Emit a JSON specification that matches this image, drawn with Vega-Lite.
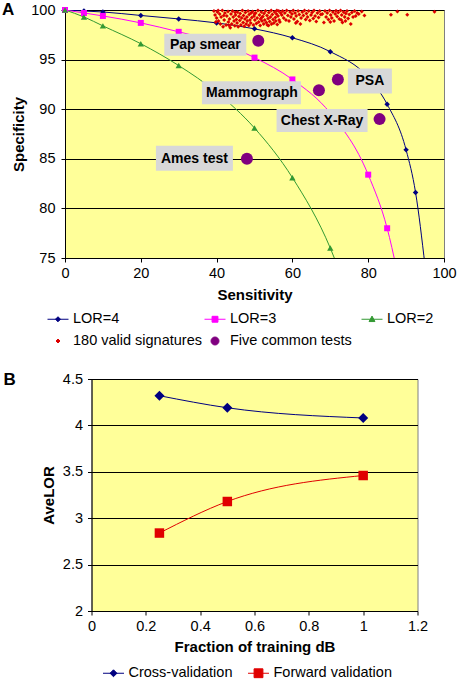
{
  "$schema": "https://vega.github.io/schema/vega-lite/v6.json",
  "padding": {"left": 1, "top": 0, "right": 0, "bottom": 0},
  "background": "white",
  "config": {
    "font": "Liberation Sans",
    "view": {"fill": "#FFFF99", "stroke": "#808080", "strokeWidth": 1},
    "axis": {
      "labelFont": "Liberation Sans", "labelFontSize": 14.5, "labelColor": "black",
      "titleFont": "Liberation Sans", "titleFontSize": 15, "titleFontWeight": "bold", "titleColor": "black",
      "domainColor": "black", "tickColor": "black", "tickSize": 4, "gridColor": "black", "gridOpacity": 1, "gridWidth": 1,
      "labelFlush": false, "labelOverlap": false
    },
    "legend": {
      "labelFont": "Liberation Sans", "labelFontSize": 14.5, "labelColor": "black",
      "symbolSize": 441, "rowPadding": 4, "labelOffset": 4, "symbolStrokeWidth": 1
    },
    "title": {"font": "Liberation Sans", "fontWeight": "bold", "fontSize": 17, "color": "black"}
  },
  "datasets": {
    "curves": [
      {"series": "LOR=4", "sens": 0, "spec": 100},
      {"series": "LOR=4", "sens": 5, "spec": 99.9},
      {"series": "LOR=4", "sens": 10, "spec": 99.8},
      {"series": "LOR=4", "sens": 20, "spec": 99.45},
      {"series": "LOR=4", "sens": 30, "spec": 99.1},
      {"series": "LOR=4", "sens": 40, "spec": 98.7},
      {"series": "LOR=4", "sens": 50, "spec": 98.1},
      {"series": "LOR=4", "sens": 60, "spec": 97.2},
      {"series": "LOR=4", "sens": 70, "spec": 95.8},
      {"series": "LOR=4", "sens": 80, "spec": 93.2},
      {"series": "LOR=4", "sens": 85, "spec": 90.5},
      {"series": "LOR=4", "sens": 90, "spec": 85.9},
      {"series": "LOR=4", "sens": 92.5, "spec": 81.6},
      {"series": "LOR=4", "sens": 95, "spec": 74.2},
      {"series": "LOR=3", "sens": 0, "spec": 100},
      {"series": "LOR=3", "sens": 5, "spec": 99.7},
      {"series": "LOR=3", "sens": 10, "spec": 99.4},
      {"series": "LOR=3", "sens": 20, "spec": 98.7},
      {"series": "LOR=3", "sens": 30, "spec": 97.8},
      {"series": "LOR=3", "sens": 40, "spec": 96.8},
      {"series": "LOR=3", "sens": 50, "spec": 95.2},
      {"series": "LOR=3", "sens": 60, "spec": 93.0},
      {"series": "LOR=3", "sens": 70, "spec": 89.6},
      {"series": "LOR=3", "sens": 80, "spec": 83.4},
      {"series": "LOR=3", "sens": 85, "spec": 78.0},
      {"series": "LOR=3", "sens": 90, "spec": 69.0},
      {"series": "LOR=2", "sens": 0, "spec": 100},
      {"series": "LOR=2", "sens": 5, "spec": 99.3},
      {"series": "LOR=2", "sens": 10, "spec": 98.4},
      {"series": "LOR=2", "sens": 20, "spec": 96.6},
      {"series": "LOR=2", "sens": 30, "spec": 94.4},
      {"series": "LOR=2", "sens": 40, "spec": 91.7},
      {"series": "LOR=2", "sens": 50, "spec": 88.1},
      {"series": "LOR=2", "sens": 60, "spec": 83.1},
      {"series": "LOR=2", "sens": 70, "spec": 76.0},
      {"series": "LOR=2", "sens": 80, "spec": 64.9}
    ],
    "tests": [
      {"test": "Pap smear", "sens": 51, "spec": 96.9},
      {"test": "PSA", "sens": 72, "spec": 93},
      {"test": "Mammograph", "sens": 67, "spec": 91.9},
      {"test": "Chest X-Ray", "sens": 83, "spec": 89},
      {"test": "Ames test", "sens": 48, "spec": 85}
    ],
    "sigs": [
      {"sens": 39.3, "spec": 99.9}, {"sens": 39.6, "spec": 99.5}, {"sens": 40.0, "spec": 99.2}, {"sens": 40.2, "spec": 99.8},
      {"sens": 40.5, "spec": 98.9}, {"sens": 40.8, "spec": 99.6}, {"sens": 41.0, "spec": 98.6}, {"sens": 41.2, "spec": 99.3},
      {"sens": 41.5, "spec": 99.95}, {"sens": 41.7, "spec": 98.3}, {"sens": 42.0, "spec": 99.0}, {"sens": 42.2, "spec": 99.7},
      {"sens": 42.5, "spec": 98.5}, {"sens": 42.7, "spec": 99.4}, {"sens": 43.0, "spec": 99.85}, {"sens": 43.1, "spec": 98.8},
      {"sens": 43.4, "spec": 99.1}, {"sens": 43.6, "spec": 98.2}, {"sens": 43.8, "spec": 99.6}, {"sens": 44.0, "spec": 98.6},
      {"sens": 44.2, "spec": 99.9}, {"sens": 44.4, "spec": 99.3}, {"sens": 44.6, "spec": 98.9}, {"sens": 44.8, "spec": 98.4},
      {"sens": 45.0, "spec": 99.5}, {"sens": 45.2, "spec": 99.05}, {"sens": 45.4, "spec": 98.7}, {"sens": 45.5, "spec": 99.8},
      {"sens": 45.7, "spec": 98.3}, {"sens": 45.9, "spec": 99.35}, {"sens": 46.1, "spec": 98.95}, {"sens": 46.2, "spec": 99.65},
      {"sens": 46.4, "spec": 98.5}, {"sens": 46.6, "spec": 99.2}, {"sens": 46.8, "spec": 99.95}, {"sens": 47.0, "spec": 98.75},
      {"sens": 47.1, "spec": 99.45}, {"sens": 47.3, "spec": 98.35}, {"sens": 47.5, "spec": 99.1}, {"sens": 47.6, "spec": 99.75},
      {"sens": 47.8, "spec": 98.6}, {"sens": 48.0, "spec": 99.3}, {"sens": 48.1, "spec": 98.9}, {"sens": 48.3, "spec": 99.9},
      {"sens": 48.5, "spec": 98.45}, {"sens": 48.6, "spec": 99.55}, {"sens": 48.8, "spec": 99.0}, {"sens": 49.0, "spec": 98.7},
      {"sens": 49.1, "spec": 99.7}, {"sens": 49.3, "spec": 99.25}, {"sens": 39.8, "spec": 98.8}, {"sens": 40.4, "spec": 99.95},
      {"sens": 41.9, "spec": 99.45}, {"sens": 43.3, "spec": 98.45}, {"sens": 44.9, "spec": 99.75},
      {"sens": 49.5, "spec": 99.85}, {"sens": 49.7, "spec": 98.5}, {"sens": 49.9, "spec": 99.4}, {"sens": 50.1, "spec": 99.0},
      {"sens": 50.3, "spec": 99.7}, {"sens": 50.5, "spec": 98.65}, {"sens": 50.7, "spec": 99.2}, {"sens": 50.9, "spec": 99.95},
      {"sens": 51.1, "spec": 98.8}, {"sens": 51.3, "spec": 99.5}, {"sens": 51.5, "spec": 98.45}, {"sens": 51.6, "spec": 99.1},
      {"sens": 51.8, "spec": 99.8}, {"sens": 52.0, "spec": 98.9}, {"sens": 52.2, "spec": 99.35}, {"sens": 52.4, "spec": 98.6},
      {"sens": 52.5, "spec": 99.65}, {"sens": 52.7, "spec": 99.0}, {"sens": 52.9, "spec": 99.9}, {"sens": 53.1, "spec": 98.75},
      {"sens": 53.3, "spec": 99.45}, {"sens": 53.4, "spec": 98.5}, {"sens": 53.6, "spec": 99.15}, {"sens": 53.8, "spec": 99.75},
      {"sens": 54.0, "spec": 98.85}, {"sens": 54.2, "spec": 99.3}, {"sens": 54.4, "spec": 99.95}, {"sens": 54.5, "spec": 98.6},
      {"sens": 54.7, "spec": 99.55}, {"sens": 54.9, "spec": 99.05}, {"sens": 55.1, "spec": 98.7}, {"sens": 55.3, "spec": 99.8},
      {"sens": 55.5, "spec": 99.25}, {"sens": 55.6, "spec": 98.9}, {"sens": 55.8, "spec": 99.6}, {"sens": 56.0, "spec": 98.55},
      {"sens": 56.2, "spec": 99.4}, {"sens": 56.4, "spec": 99.9}, {"sens": 56.5, "spec": 99.0}, {"sens": 56.7, "spec": 98.8},
      {"sens": 56.9, "spec": 99.7}, {"sens": 50.0, "spec": 99.6}, {"sens": 51.9, "spec": 99.25}, {"sens": 53.7, "spec": 98.45},
      {"sens": 55.9, "spec": 99.95},
      {"sens": 57.2, "spec": 99.5}, {"sens": 57.4, "spec": 99.9}, {"sens": 57.7, "spec": 99.2}, {"sens": 58.0, "spec": 99.7},
      {"sens": 58.3, "spec": 99.0}, {"sens": 58.5, "spec": 99.95}, {"sens": 58.8, "spec": 99.45}, {"sens": 59.1, "spec": 98.9},
      {"sens": 59.4, "spec": 99.8}, {"sens": 59.6, "spec": 99.3}, {"sens": 59.9, "spec": 99.6}, {"sens": 60.2, "spec": 99.95},
      {"sens": 60.4, "spec": 99.1}, {"sens": 60.7, "spec": 99.7}, {"sens": 61.0, "spec": 99.4}, {"sens": 61.3, "spec": 98.85},
      {"sens": 61.5, "spec": 99.9}, {"sens": 61.8, "spec": 99.55}, {"sens": 62.1, "spec": 98.6}, {"sens": 62.3, "spec": 99.2},
      {"sens": 62.6, "spec": 99.8}, {"sens": 62.9, "spec": 99.45}, {"sens": 63.2, "spec": 99.95}, {"sens": 63.5, "spec": 99.05},
      {"sens": 63.7, "spec": 99.65}, {"sens": 64.0, "spec": 99.3}, {"sens": 64.3, "spec": 99.9}, {"sens": 64.6, "spec": 98.95},
      {"sens": 64.9, "spec": 99.5}, {"sens": 65.2, "spec": 99.75}, {"sens": 65.5, "spec": 99.15}, {"sens": 65.7, "spec": 99.95},
      {"sens": 66.0, "spec": 99.4}, {"sens": 66.3, "spec": 98.85}, {"sens": 66.6, "spec": 99.7}, {"sens": 66.9, "spec": 99.25},
      {"sens": 67.2, "spec": 99.9}, {"sens": 67.5, "spec": 99.55}, {"sens": 67.9, "spec": 99.6}, {"sens": 68.3, "spec": 98.75},
      {"sens": 68.6, "spec": 99.9}, {"sens": 68.9, "spec": 99.3}, {"sens": 69.2, "spec": 99.7}, {"sens": 69.5, "spec": 99.05},
      {"sens": 69.8, "spec": 99.95}, {"sens": 70.1, "spec": 99.5}, {"sens": 70.4, "spec": 99.2}, {"sens": 70.7, "spec": 99.8},
      {"sens": 71.0, "spec": 98.9}, {"sens": 71.3, "spec": 99.6}, {"sens": 71.5, "spec": 99.93}, {"sens": 71.8, "spec": 99.35},
      {"sens": 72.1, "spec": 99.75}, {"sens": 72.4, "spec": 99.1}, {"sens": 72.7, "spec": 99.95}, {"sens": 73.0, "spec": 99.5},
      {"sens": 73.2, "spec": 98.75}, {"sens": 73.5, "spec": 99.8}, {"sens": 73.8, "spec": 99.3}, {"sens": 74.1, "spec": 99.65},
      {"sens": 74.4, "spec": 99.9}, {"sens": 74.7, "spec": 99.15}, {"sens": 75.0, "spec": 99.55}, {"sens": 75.4, "spec": 98.6},
      {"sens": 75.7, "spec": 99.75}, {"sens": 76.0, "spec": 99.3}, {"sens": 76.4, "spec": 99.9}, {"sens": 76.7, "spec": 99.4},
      {"sens": 77.1, "spec": 99.7}, {"sens": 77.5, "spec": 99.6}, {"sens": 74.0, "spec": 98.9}, {"sens": 70.0, "spec": 98.8},
      {"sens": 72.9, "spec": 99.0},
      {"sens": 86.0, "spec": 99.53}, {"sens": 87.7, "spec": 99.86}, {"sens": 90.3, "spec": 99.53}, {"sens": 97.5, "spec": 99.83},
      {"sens": 78.3, "spec": 99.85}, {"sens": 79.0, "spec": 99.45}, {"sens": 60.9, "spec": 98.7}
    ],
    "valid": [
      {"method": "Cross-validation", "frac": 0.25, "lor": 4.32},
      {"method": "Cross-validation", "frac": 0.5, "lor": 4.19},
      {"method": "Cross-validation", "frac": 1.0, "lor": 4.08},
      {"method": "Forward validation", "frac": 0.25, "lor": 2.84},
      {"method": "Forward validation", "frac": 0.5, "lor": 3.18},
      {"method": "Forward validation", "frac": 1.0, "lor": 3.46}
    ]
  },
  "columns": 1,
  "bounds": "flush",
  "center": true,
  "spacing": 121,
  "resolve": {"scale": {"x": "independent", "y": "independent", "color": "independent"}, "legend": {"color": "independent"}},
  "concat": [
    {
      "width": 379,
      "height": 248,
      "title": {"text": "A", "anchor": "start", "frame": "group", "orient": "top", "dx": -63, "offset": -30, "baseline": "alphabetic"},
      "layer": [
        {
          "data": {"name": "curves"},
          "mark": {"type": "line", "interpolate": "monotone", "strokeWidth": 1, "clip": true},
          "encoding": {
            "x": {"field": "sens", "type": "quantitative", "scale": {"domain": [0, 100], "nice": false},
                  "axis": {"values": [0, 10, 20, 30, 40, 50, 60, 70, 80, 90, 100], "title": "Sensitivity", "grid": false, "labelPadding": 4, "titlePadding": 8}},
            "y": {"field": "spec", "type": "quantitative", "scale": {"domain": [75, 100], "nice": false, "zero": false},
                  "axis": {"values": [75, 80, 85, 90, 95, 100], "title": "Specificity", "grid": true, "labelPadding": 6, "titlePadding": 4}},
            "color": {
              "field": "series", "type": "nominal",
              "scale": {"domain": ["LOR=4", "LOR=3", "LOR=2", "180 valid signatures", "Five common tests"],
                        "range": ["#000080", "#FF00FF", "#339933", "#DD0000", "#800080"]},
              "legend": {
                "title": null, "orient": "none", "legendX": -18, "legendY": 298, "direction": "horizontal",
                "columns": 3, "gridAlign": "all", "columnPadding": 0,
                "encode": {"symbols": {"update": {
                  "shape": {"signal": "datum.value === 'LOR=4' ? 'M-1,0H1M0,-0.24L0.24,0L0,0.24L-0.24,0Z' : datum.value === 'LOR=3' ? 'M-1,0H1M-0.28,-0.28H0.28V0.28H-0.28Z' : datum.value === 'LOR=2' ? 'M-1,0H1M0,-0.3L0.28,0.22H-0.28Z' : datum.value === '180 valid signatures' ? 'M0,-0.19L0.19,0L0,0.19L-0.19,0Z' : 'M0.38,0A0.38,0.38,0,1,1,-0.38,0A0.38,0.38,0,1,1,0.38,0Z'"},
                  "size": {"value": 441},
                  "fill": {"signal": "datum.value === 'LOR=4' ? '#000080' : datum.value === 'LOR=3' ? '#FF00FF' : datum.value === 'LOR=2' ? '#339933' : datum.value === '180 valid signatures' ? '#DD0000' : '#800080'"},
                  "stroke": {"signal": "datum.value === 'LOR=4' ? '#000080' : datum.value === 'LOR=3' ? '#FF00FF' : datum.value === 'LOR=2' ? '#339933' : datum.value === '180 valid signatures' ? '#DD0000' : '#800080'"},
                  "strokeWidth": {"value": 1},
                  "opacity": {"value": 1},
                  "fillOpacity": {"value": 1},
                  "strokeOpacity": {"value": 1}
                }}}
              }
            }
          }
        },
        {
          "data": {"name": "curves"},
          "transform": [{"filter": "datum.series === 'LOR=4' && datum.spec >= 75"}],
          "mark": {"type": "point", "shape": "diamond", "filled": true, "size": 30, "opacity": 1},
          "encoding": {
            "x": {"field": "sens", "type": "quantitative"},
            "y": {"field": "spec", "type": "quantitative"},
            "color": {"field": "series", "type": "nominal"}
          }
        },
        {
          "data": {"name": "curves"},
          "transform": [{"filter": "datum.series === 'LOR=3' && datum.spec >= 75"}],
          "mark": {"type": "point", "shape": "square", "filled": true, "size": 36, "opacity": 1},
          "encoding": {
            "x": {"field": "sens", "type": "quantitative"},
            "y": {"field": "spec", "type": "quantitative"},
            "color": {"field": "series", "type": "nominal"}
          }
        },
        {
          "data": {"name": "curves"},
          "transform": [{"filter": "datum.series === 'LOR=2' && datum.spec >= 75"}],
          "mark": {"type": "point", "shape": "triangle-up", "filled": true, "size": 40, "opacity": 1},
          "encoding": {
            "x": {"field": "sens", "type": "quantitative"},
            "y": {"field": "spec", "type": "quantitative"},
            "color": {"field": "series", "type": "nominal"}
          }
        },
        {
          "data": {"name": "sigs"},
          "mark": {"type": "point", "shape": "diamond", "filled": true, "size": 16, "opacity": 1},
          "encoding": {
            "x": {"field": "sens", "type": "quantitative"},
            "y": {"field": "spec", "type": "quantitative"},
            "color": {"datum": "180 valid signatures", "type": "nominal"}
          }
        },
        {
          "data": {"name": "tests"},
          "mark": {"type": "point", "shape": "circle", "filled": true, "size": 144, "opacity": 1},
          "encoding": {
            "x": {"field": "sens", "type": "quantitative"},
            "y": {"field": "spec", "type": "quantitative"},
            "color": {"datum": "Five common tests", "type": "nominal"}
          }
        },
        {
          "data": {"name": "tests"},
          "transform": [{"filter": "datum.test === 'Pap smear'"}],
          "layer": [
            {"mark": {"type": "rect", "color": "#D8D8D8", "xOffset": -94, "x2Offset": -12, "yOffset": -7, "y2Offset": 15},
             "encoding": {"x": {"field": "sens", "type": "quantitative"}, "x2": {"field": "sens"}, "y": {"field": "spec", "type": "quantitative"}, "y2": {"field": "spec"}}},
            {"mark": {"type": "text", "fontWeight": "bold", "fontSize": 14, "color": "black", "align": "center", "baseline": "middle", "dx": -53, "dy": 4},
             "encoding": {"x": {"field": "sens", "type": "quantitative"}, "y": {"field": "spec", "type": "quantitative"}, "text": {"field": "test"}}}
          ]
        },
        {
          "data": {"name": "tests"},
          "transform": [{"filter": "datum.test === 'Mammograph'"}],
          "layer": [
            {"mark": {"type": "rect", "color": "#D8D8D8", "xOffset": -117, "x2Offset": -18, "yOffset": -9, "y2Offset": 14},
             "encoding": {"x": {"field": "sens", "type": "quantitative"}, "x2": {"field": "sens"}, "y": {"field": "spec", "type": "quantitative"}, "y2": {"field": "spec"}}},
            {"mark": {"type": "text", "fontWeight": "bold", "fontSize": 14, "color": "black", "align": "center", "baseline": "middle", "dx": -67, "dy": 2.5},
             "encoding": {"x": {"field": "sens", "type": "quantitative"}, "y": {"field": "spec", "type": "quantitative"}, "text": {"field": "test"}}}
          ]
        },
        {
          "data": {"name": "tests"},
          "transform": [{"filter": "datum.test === 'PSA'"}],
          "layer": [
            {"mark": {"type": "rect", "color": "#D8D8D8", "xOffset": 10, "x2Offset": 54, "yOffset": -11, "y2Offset": 14},
             "encoding": {"x": {"field": "sens", "type": "quantitative"}, "x2": {"field": "sens"}, "y": {"field": "spec", "type": "quantitative"}, "y2": {"field": "spec"}}},
            {"mark": {"type": "text", "fontWeight": "bold", "fontSize": 14, "color": "black", "align": "center", "baseline": "middle", "dx": 32, "dy": 1.5},
             "encoding": {"x": {"field": "sens", "type": "quantitative"}, "y": {"field": "spec", "type": "quantitative"}, "text": {"field": "test"}}}
          ]
        },
        {
          "data": {"name": "tests"},
          "transform": [{"filter": "datum.test === 'Chest X-Ray'"}],
          "layer": [
            {"mark": {"type": "rect", "color": "#D8D8D8", "xOffset": -103, "x2Offset": -12, "yOffset": -10, "y2Offset": 13},
             "encoding": {"x": {"field": "sens", "type": "quantitative"}, "x2": {"field": "sens"}, "y": {"field": "spec", "type": "quantitative"}, "y2": {"field": "spec"}}},
            {"mark": {"type": "text", "fontWeight": "bold", "fontSize": 14, "color": "black", "align": "center", "baseline": "middle", "dx": -57.5, "dy": 1.5},
             "encoding": {"x": {"field": "sens", "type": "quantitative"}, "y": {"field": "spec", "type": "quantitative"}, "text": {"field": "test"}}}
          ]
        },
        {
          "data": {"name": "tests"},
          "transform": [{"filter": "datum.test === 'Ames test'"}],
          "layer": [
            {"mark": {"type": "rect", "color": "#D8D8D8", "xOffset": -91, "x2Offset": -14, "yOffset": -13, "y2Offset": 12},
             "encoding": {"x": {"field": "sens", "type": "quantitative"}, "x2": {"field": "sens"}, "y": {"field": "spec", "type": "quantitative"}, "y2": {"field": "spec"}}},
            {"mark": {"type": "text", "fontWeight": "bold", "fontSize": 14, "color": "black", "align": "center", "baseline": "middle", "dx": -52.5, "dy": 0},
             "encoding": {"x": {"field": "sens", "type": "quantitative"}, "y": {"field": "spec", "type": "quantitative"}, "text": {"field": "test"}}}
          ]
        }
      ]
    },
    {
      "width": 326,
      "height": 232,
      "title": {"text": "B", "anchor": "start", "frame": "group", "orient": "top", "dx": -88, "offset": -31, "baseline": "alphabetic"},
      "data": {"name": "valid"},
      "layer": [
        {
          "mark": {"type": "line", "interpolate": "monotone", "strokeWidth": 1},
          "encoding": {
            "x": {"field": "frac", "type": "quantitative", "scale": {"domain": [0, 1.2], "nice": false},
                  "axis": {"values": [0, 0.2, 0.4, 0.6, 0.8, 1, 1.2], "format": "~g", "title": "Fraction of training dB", "grid": false, "labelPadding": 4, "titlePadding": 7}},
            "y": {"field": "lor", "type": "quantitative", "scale": {"domain": [2, 4.5], "nice": false, "zero": false},
                  "axis": {"values": [2, 2.5, 3, 3.5, 4, 4.5], "format": "~g", "title": "AveLOR", "grid": true, "labelPadding": 5, "titlePadding": 6}},
            "color": {
              "field": "method", "type": "nominal",
              "scale": {"domain": ["Cross-validation", "Forward validation"], "range": ["#000080", "#E00000"]},
              "legend": {
                "title": null, "orient": "none", "legendX": 11, "legendY": 283, "direction": "horizontal",
                "columns": 2, "columnPadding": 13,
                "encode": {"symbols": {"update": {
                  "shape": {"signal": "datum.value === 'Cross-validation' ? 'M-1,0H1M0,-0.33L0.33,0L0,0.33L-0.33,0Z' : 'M-1,0H1M-0.42,-0.42H0.42V0.42H-0.42Z'"},
                  "size": {"value": 441},
                  "fill": {"signal": "datum.value === 'Cross-validation' ? '#000080' : '#E00000'"},
                  "stroke": {"signal": "datum.value === 'Cross-validation' ? '#000080' : '#E00000'"},
                  "strokeWidth": {"value": 1},
                  "opacity": {"value": 1},
                  "fillOpacity": {"value": 1},
                  "strokeOpacity": {"value": 1}
                }}}
              }
            }
          }
        },
        {
          "transform": [{"filter": "datum.method === 'Cross-validation'"}],
          "mark": {"type": "point", "shape": "diamond", "filled": true, "size": 100, "opacity": 1},
          "encoding": {
            "x": {"field": "frac", "type": "quantitative"},
            "y": {"field": "lor", "type": "quantitative"},
            "color": {"field": "method", "type": "nominal"}
          }
        },
        {
          "transform": [{"filter": "datum.method === 'Forward validation'"}],
          "mark": {"type": "point", "shape": "square", "filled": true, "size": 90, "opacity": 1},
          "encoding": {
            "x": {"field": "frac", "type": "quantitative"},
            "y": {"field": "lor", "type": "quantitative"},
            "color": {"field": "method", "type": "nominal"}
          }
        }
      ]
    }
  ]
}
